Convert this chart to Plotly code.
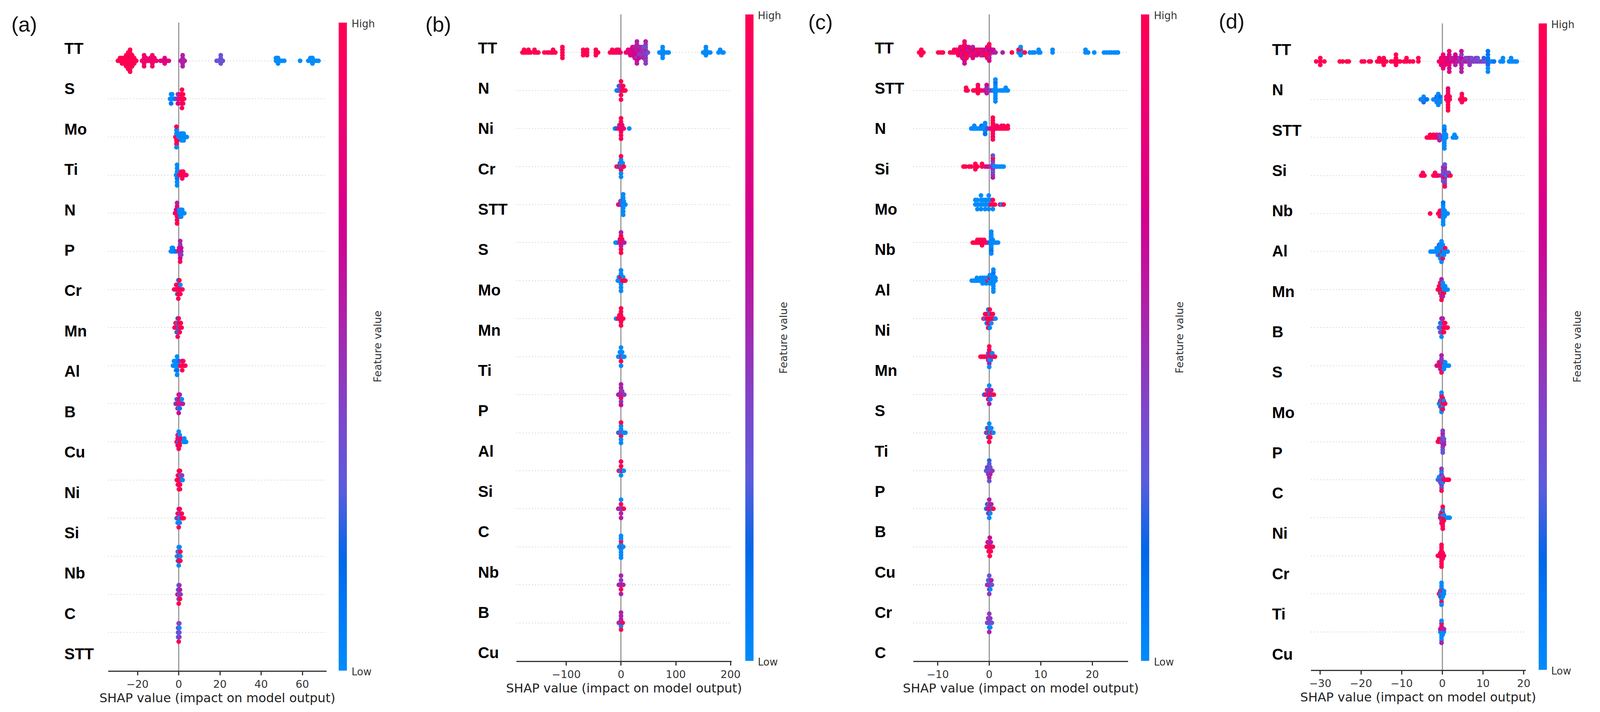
import numpy as np
import plotly.graph_objects as go

# Each dot: (SHAP value, feature value on a 0-9 scale, 0 = low / blue, 9 = high / red)

# ---------------- panel (a) ----------------
a_features = ["TT", "S", "Mo", "Ti", "N", "P", "Cr", "Mn", "Al", "B", "Cu", "Ni", "Si", "Nb", "C", "STT"]
a_ticks = [-20, 0, 20, 40, 60]

a_TT = [(-29.5, 9), (-28.5, 9), (-28.5, 9), (-27.5, 9), (-27.5, 9), (-27.5, 9),
        (-26.5, 9), (-26.5, 9), (-26.5, 9), (-25.5, 9), (-25.5, 9), (-25.5, 9), (-25.5, 9), (-25.5, 9),
        (-24.5, 9), (-24.5, 9), (-24.5, 9), (-24.5, 9), (-24.5, 9), (-24.5, 9), (-24.5, 9),
        (-23.6, 9), (-23.6, 9), (-23.6, 9), (-23.6, 9), (-23.6, 9), (-23.6, 9), (-23.6, 9), (-23.6, 9), (-23.6, 9),
        (-22.6, 9), (-22.6, 9), (-22.6, 9), (-22.6, 9), (-22.6, 9), (-21.6, 9), (-21.6, 9), (-21.6, 9), (-20.6, 9),
        (-17.8, 8), (-16.8, 8), (-16.8, 8), (-16.8, 8), (-16.8, 8), (-16.8, 8), (-15.8, 8), (-15.8, 8),
        (-14.8, 8), (-13.8, 8), (-13.8, 8), (-12.8, 8), (-12.8, 8), (-12.8, 8), (-12.8, 8), (-12.8, 8),
        (-11.8, 8), (-11.8, 8), (-10.8, 8),
        (-8.8, 7), (-7.8, 7), (-6.8, 7), (-6.8, 7), (-6.8, 7), (-5.8, 7), (-4.8, 7),
        (0.9, 5), (1.9, 5), (1.9, 5), (1.9, 5), (1.9, 5), (1.9, 5), (2.9, 5),
        (18.4, 3), (19.4, 3), (20.4, 3), (20.4, 3), (20.4, 3), (20.4, 3), (21.4, 3),
        (47.2, 0), (47.2, 0), (48.2, 0), (48.2, 0), (48.2, 0), (49.2, 0), (50.2, 0), (51.2, 0),
        (58.9, 0),
        (62.9, 0), (63.9, 0), (63.9, 0), (64.9, 0), (64.9, 0), (64.9, 0), (65.9, 0), (66.9, 0), (67.8, 0)]
a_S = [(-4.2, 0), (-3.7, 0), (-3.7, 0), (-3.7, 1), (-3.2, 0), (-3.2, 0), (-2.7, 0), (-2.2, 0), (-1.6, 1),
       (-0.9, 4), (-0.4, 5), (-0.4, 4), (-0.4, 6), (0.1, 5), (0.6, 9), (0.6, 8), (1.1, 9), (1.1, 9), (1.1, 9),
       (1.6, 9), (1.6, 8), (1.6, 9), (1.6, 9), (1.6, 9), (2.1, 9), (2.1, 9), (2.1, 8), (2.6, 9)]
a_Mo = [(-1.6, 9), (-1.1, 9), (-1.1, 0), (-1.1, 9), (-1.1, 0), (-1.1, 9), (-1.1, 8), (-1.1, 0), (-0.6, 9),
        (-0.6, 0), (-0.6, 9), (-0.1, 0), (0.4, 0), (0.9, 0), (0.9, 0), (1.4, 0), (1.4, 0), (1.4, 0), (1.9, 0),
        (1.9, 0), (2.4, 0), (2.4, 0), (2.4, 0), (2.9, 0), (3.4, 0), (3.9, 0)]
a_Ti = [(-1.3, 0), (-0.8, 0), (-0.8, 0), (-0.8, 1), (-0.8, 0), (-0.8, 0), (-0.8, 0), (-0.8, 0), (-0.3, 0),
        (-0.3, 0), (0.2, 9), (0.7, 9), (1.2, 9), (1.2, 9), (1.7, 9), (1.7, 9), (1.7, 8), (2.2, 9), (2.2, 9),
        (2.7, 9), (3.2, 9), (3.7, 8)]
a_N = [(-1.8, 8), (-1.3, 9), (-1.3, 7), (-0.8, 9), (-0.8, 6), (-0.8, 9), (-0.8, 8), (-0.8, 9), (-0.8, 5),
       (-0.8, 9), (-0.3, 9), (-0.3, 6), (-0.3, 9), (0.2, 2), (0.2, 0), (0.7, 0), (0.7, 0), (0.7, 1), (1.2, 0),
       (1.2, 0), (1.2, 0), (1.7, 0), (1.7, 0), (2.2, 0), (2.7, 0)]
a_P = [(-3.8, 0), (-3.3, 0), (-3.3, 0), (-2.8, 0), (-2.8, 0), (-2.3, 0), (-1.8, 0), (-1.3, 1), (-0.3, 5),
       (0.2, 5), (0.2, 6), (0.7, 5), (0.7, 9), (0.7, 5), (0.7, 4), (0.7, 6), (0.7, 5), (0.7, 9), (1.2, 5),
       (1.2, 6), (1.2, 4)]
a_Cr = [(-2.2, 9), (-1.7, 9), (-1.2, 8), (-1.2, 9), (-0.7, 9), (-0.7, 9), (-0.7, 1), (-0.2, 9), (-0.2, 8),
        (-0.2, 9), (-0.2, 0), (-0.2, 9), (0.3, 9), (0.3, 9), (0.3, 9), (0.3, 9), (0.8, 9), (0.8, 0), (0.8, 9),
        (1.3, 9), (1.8, 8)]
a_Mn = [(-2.0, 9), (-1.5, 9), (-1.5, 9), (-1.0, 8), (-1.0, 9), (-1.0, 0), (-0.5, 9), (-0.5, 0), (-0.5, 9),
        (-0.5, 1), (-0.5, 9), (0.0, 0), (0.0, 9), (0.0, 0), (0.0, 9), (0.5, 9), (0.5, 9), (0.5, 8), (1.0, 9),
        (1.0, 9), (1.4, 9)]
a_Al = [(-2.8, 0), (-2.3, 0), (-2.3, 0), (-1.8, 0), (-1.8, 0), (-1.3, 0), (-1.3, 0), (-1.3, 0), (-0.8, 0),
        (-0.8, 0), (-0.8, 1), (-0.8, 0), (-0.8, 0), (-0.3, 0), (-0.3, 0), (0.2, 0), (0.2, 2), (0.7, 9),
        (1.2, 9), (1.7, 9), (1.7, 9), (1.7, 9), (2.2, 9), (2.2, 8), (2.7, 9), (3.2, 9)]
a_B = [(-1.5, 3), (-1.0, 5), (-1.0, 0), (-0.5, 6), (-0.5, 4), (-0.5, 9), (0.0, 9), (0.0, 5), (0.0, 0),
       (0.0, 9), (0.0, 6), (0.5, 4), (0.5, 9), (0.5, 1), (0.5, 5), (1.0, 9), (1.0, 9), (1.5, 5), (1.5, 0),
       (2.0, 5)]
a_Cu = [(-1.0, 9), (-0.5, 8), (-0.5, 9), (-0.5, 5), (-0.5, 9), (0.0, 0), (0.0, 9), (0.0, 9), (0.0, 6),
        (0.0, 9), (0.0, 0), (0.5, 9), (0.5, 5), (0.5, 9), (0.5, 0), (1.0, 9), (1.0, 8), (2.2, 0), (2.7, 0),
        (2.7, 0), (3.2, 0), (3.6, 0)]
a_Ni = [(-0.9, 9), (-0.4, 9), (-0.4, 8), (-0.4, 9), (0.1, 9), (0.1, 9), (0.1, 9), (0.1, 9), (0.1, 8),
        (0.6, 9), (0.6, 9), (0.6, 9), (0.6, 9), (0.6, 9), (1.1, 9), (1.1, 0), (1.6, 0), (1.6, 4), (1.9, 0)]
a_Si = [(-1.0, 0), (-0.5, 5), (-0.5, 9), (-0.5, 0), (0.0, 4), (0.0, 9), (0.0, 0), (0.0, 5), (0.0, 9),
        (0.5, 0), (0.5, 4), (0.5, 0), (0.5, 9), (1.0, 0), (1.0, 5), (1.5, 9), (1.5, 9), (2.0, 9), (2.4, 9)]
a_Nb = [(-0.8, 0), (-0.4, 0), (-0.4, 9), (-0.4, 0), (0.0, 0), (0.0, 0), (0.0, 9), (0.0, 0), (0.0, 0),
        (0.4, 9), (0.4, 0), (0.4, 9), (0.4, 0), (0.8, 0), (0.8, 9), (0.8, 9)]
a_C = [(-0.6, 5), (-0.3, 9), (-0.3, 4), (0.0, 4), (0.0, 0), (0.0, 5), (0.0, 3), (0.0, 9), (0.3, 4), (0.3, 5),
       (0.3, 0), (0.3, 4), (0.6, 3), (0.6, 5), (0.6, 9), (0.9, 4)]
a_STT = [(-0.3, 3), (-0.3, 3), (-0.3, 0), (0.0, 3), (0.0, 4), (0.0, 3), (0.0, 9), (0.0, 9), (0.3, 3),
         (0.3, 0), (0.3, 4), (0.3, 3)]

# ---------------- panel (b) ----------------
b_features = ["TT", "N", "Ni", "Cr", "STT", "S", "Mo", "Mn", "Ti", "P", "Al", "Si", "C", "Nb", "B", "Cu"]
b_ticks = [-100, 0, 100, 200]

b_TT = [(-180, 9), (-177, 9), (-177, 9), (-173, 9), (-169, 9), (-169, 9), (-165, 9), (-158, 9), (-158, 9),
        (-154, 9), (-151, 9), (-140, 9), (-135, 9), (-131, 9), (-127, 9), (-124, 9), (-124, 9), (-120, 9),
        (-107, 9), (-107, 9), (-107, 9), (-107, 9), (-107, 9),
        (-69, 9), (-69, 9), (-69, 9), (-66, 9), (-62, 9), (-62, 9), (-62, 9),
        (-46, 9), (-46, 9), (-46, 9), (-42, 9),
        (-20, 9), (-16, 9), (-16, 9), (-12, 9), (-8, 8), (-8, 9), (-4, 9), (-4, 8), (-1, 8),
        (9, 8), (13, 8), (13, 7), (17, 8), (17, 7), (17, 6), (21, 7), (21, 7), (21, 6), (21, 7),
        (25, 7), (25, 6), (25, 6), (25, 5), (25, 7),
        (29, 6), (29, 5), (29, 6), (29, 5), (29, 4), (29, 5), (29, 6), (29, 5), (29, 5),
        (33, 5), (33, 6), (33, 4), (33, 5), (33, 6), (37, 4), (37, 5), (37, 4), (37, 5),
        (41, 5), (41, 4), (41, 4), (41, 3), (41, 5),
        (45, 4), (45, 5), (45, 4), (45, 3), (45, 4), (45, 4), (45, 4), (45, 5), (45, 4), (49, 3),
        (70, 0), (73, 0), (76, 0), (76, 0), (76, 0), (76, 0), (76, 0), (80, 0), (84, 0), (87, 0),
        (150, 0), (153, 0), (155, 0), (155, 0), (155, 0), (159, 0), (163, 0),
        (178, 0), (181, 0), (185, 0), (187, 0)]
b_N = [(-8, 0), (-7, 0), (-6, 2), (-5, 0), (-4, 0), (-4, 0), (-3, 9), (-3, 0), (-2, 0), (-2, 5), (-1, 0),
       (0, 9), (0, 0), (0, 9), (0, 9), (0, 9), (1, 0), (1, 9), (2, 9), (2, 5), (3, 9), (4, 9), (4, 9),
       (5, 9), (6, 9), (7, 9), (8, 9)]
b_Ni = [(-11, 0), (-9, 0), (-8, 2), (-4, 9), (-3, 9), (-3, 8), (-2, 9), (-2, 0), (-1, 9), (-1, 9),
        (0, 9), (0, 9), (0, 8), (0, 9), (0, 9), (0, 9), (0, 9), (1, 9), (1, 9), (2, 9), (2, 7), (3, 9),
        (4, 9), (5, 8), (15, 0)]
b_Cr = [(-8, 9), (-6, 9), (-5, 0), (-4, 9), (-3, 9), (-2, 9), (-2, 0), (-1, 9), (-1, 9), (0, 0), (0, 0),
        (0, 9), (0, 0), (0, 0), (0, 9), (0, 0), (1, 0), (1, 0), (2, 9), (2, 0), (3, 9), (3, 0), (4, 0),
        (5, 9)]
b_STT = [(-5, 9), (-4, 5), (-3, 9), (-2, 5), (-1, 9), (-1, 4), (0, 5), (0, 9), (1, 4), (1, 0), (2, 5),
         (3, 0), (3, 0), (4, 0), (4, 5), (4, 0), (4, 0), (4, 0), (4, 0), (4, 0), (5, 0), (5, 0), (6, 0),
         (7, 0), (8, 0)]
b_S = [(-10, 0), (-8, 0), (-6, 0), (-4, 5), (-3, 0), (-2, 9), (-2, 5), (-1, 5), (0, 9), (0, 9), (0, 5),
       (0, 9), (0, 9), (0, 5), (0, 9), (1, 5), (2, 9), (2, 9), (3, 5), (4, 9), (6, 5)]
b_Mo = [(-6, 0), (-5, 0), (-4, 0), (-4, 0), (-3, 0), (-2, 0), (-2, 0), (-1, 0), (-1, 9), (0, 0), (0, 9),
        (0, 0), (0, 0), (0, 0), (0, 0), (0, 0), (1, 0), (2, 9), (3, 9), (4, 9), (4, 0), (5, 9), (6, 9),
        (8, 9)]
b_Mn = [(-9, 0), (-7, 0), (-5, 9), (-4, 9), (-3, 9), (-3, 9), (-2, 9), (-1, 9), (-1, 8), (0, 9), (0, 9),
        (0, 9), (0, 9), (0, 9), (0, 9), (1, 9), (2, 9), (3, 9), (4, 9)]
b_Ti = [(-5, 0), (-4, 0), (-3, 0), (-2, 0), (-2, 0), (-1, 0), (0, 0), (0, 0), (0, 9), (0, 0), (0, 0),
        (1, 9), (2, 9), (2, 0), (3, 0), (4, 0), (5, 0), (6, 0)]
b_P = [(-5, 5), (-4, 4), (-3, 5), (-2, 6), (-1, 5), (0, 4), (0, 5), (0, 9), (0, 5), (0, 4), (0, 5),
       (0, 6), (1, 5), (2, 5), (2, 4), (3, 5), (4, 9), (5, 5), (6, 4)]
b_Al = [(-5, 0), (-3, 9), (-2, 0), (-1, 9), (0, 0), (0, 0), (0, 9), (0, 0), (0, 0), (0, 9), (0, 0),
        (1, 0), (2, 0), (3, 9), (4, 0), (6, 0), (8, 0)]
b_Si = [(-4, 9), (-3, 9), (-2, 0), (-1, 9), (0, 0), (0, 9), (0, 0), (0, 9), (1, 0), (2, 9), (3, 9), (5, 0)]
b_C = [(-5, 5), (-3, 9), (-2, 0), (-1, 5), (0, 4), (0, 9), (0, 5), (0, 0), (0, 5), (1, 9), (2, 5), (3, 0),
       (4, 5), (5, 9)]
b_Nb = [(-3, 0), (-2, 0), (-1, 0), (0, 0), (0, 0), (0, 0), (0, 9), (0, 0), (0, 0), (0, 0), (0, 0), (0, 0),
        (1, 0), (2, 0), (3, 9), (4, 0)]
b_B = [(-4, 5), (-3, 4), (-2, 5), (-1, 6), (0, 5), (0, 4), (0, 9), (0, 5), (0, 5), (1, 4), (2, 5), (3, 6),
       (4, 5)]
b_Cu = [(-4, 9), (-3, 5), (-2, 0), (-1, 5), (0, 9), (0, 5), (0, 0), (0, 5), (0, 9), (0, 5), (1, 0), (2, 5),
        (3, 9)]

# ---------------- panel (c) ----------------
c_features = ["TT", "STT", "N", "Si", "Mo", "Nb", "Al", "Ni", "Mn", "S", "Ti", "P", "B", "Cu", "Cr", "C"]
c_ticks = [-10, 0, 10, 20]

c_TT = [(-13.6, 9), (-13.2, 9), (-13.2, 9), (-13.2, 9), (-12.8, 9),
        (-9.9, 9), (-9.4, 9), (-9.0, 9),
        (-7.6, 9), (-7.2, 9), (-6.8, 9), (-6.8, 8), (-6.4, 9), (-6.4, 8), (-6.0, 9), (-6.0, 8), (-6.0, 9),
        (-5.6, 8), (-5.6, 9), (-5.6, 7), (-5.6, 8), (-5.2, 9), (-5.2, 6), (-5.2, 8), (-5.2, 9), (-5.2, 7),
        (-4.8, 8), (-4.8, 9), (-4.8, 6), (-4.8, 8), (-4.8, 5), (-4.8, 9), (-4.8, 7), (-4.8, 8), (-4.8, 6),
        (-4.4, 9), (-4.4, 7), (-4.4, 8), (-4.4, 6), (-4.4, 9), (-4.0, 8), (-4.0, 5), (-4.0, 9), (-4.0, 7),
        (-3.6, 6), (-3.6, 9), (-3.6, 5), (-3.2, 8), (-3.2, 6), (-3.2, 9), (-3.2, 5), (-3.2, 7),
        (-2.8, 9), (-2.8, 6), (-2.8, 8), (-2.4, 5), (-2.4, 9), (-2.4, 7), (-2.0, 6), (-2.0, 9),
        (-1.6, 8), (-1.6, 5), (-1.6, 9), (-1.2, 7), (-1.2, 9), (-1.2, 5), (-0.8, 9), (-0.8, 6), (-0.8, 8),
        (-0.4, 9), (-0.4, 5), (-0.4, 9), (-0.4, 7), (-0.4, 8),
        (0.0, 9), (0.0, 6), (0.0, 9), (0.0, 8), (0.0, 5), (0.0, 9), (0.0, 7),
        (0.4, 5), (0.4, 6), (0.8, 5), (0.8, 6), (1.2, 5),
        (2.6, 5), (4.4, 9),
        (5.7, 0), (5.7, 9), (6.1, 0), (6.1, 9), (6.1, 0), (6.1, 0), (6.5, 0), (6.9, 9),
        (7.9, 0), (8.4, 0), (8.8, 0), (9.6, 0), (9.6, 0), (9.9, 0),
        (12.3, 0), (12.3, 0),
        (18.7, 0), (18.7, 0), (19.2, 0), (20.4, 0),
        (22.3, 0), (22.8, 0), (23.3, 0), (23.7, 0), (24.2, 0), (24.6, 0), (25.0, 0)]
c_STT = [(-4.5, 9), (-4.5, 9), (-4.2, 9), (-3.1, 9), (-2.8, 9), (-2.5, 9), (-2.2, 9), (-2.2, 9), (-2.2, 9),
         (-2.2, 8), (-1.8, 9), (-1.5, 9), (-1.0, 7), (-0.5, 5), (-0.5, 4), (-0.5, 5), (-0.5, 6), (-0.2, 5),
         (0.2, 4), (0.6, 2), (0.9, 0), (1.2, 0), (1.2, 0), (1.2, 0), (1.2, 0), (1.2, 0), (1.2, 1), (1.2, 0),
         (1.2, 0), (1.2, 0), (1.5, 0), (2.1, 0), (2.5, 0), (2.8, 0), (3.2, 0), (3.2, 0), (3.6, 0)]
c_N = [(-3.5, 0), (-3.2, 0), (-2.9, 0), (-2.9, 0), (-2.5, 0), (-2.2, 0), (-1.8, 0), (-1.5, 0), (-1.5, 1),
       (-1.2, 0), (-0.8, 0), (-0.8, 0), (-0.8, 0), (-0.8, 0), (-0.8, 1), (-0.4, 2), (0.0, 5), (0.4, 7),
       (0.7, 9), (0.7, 9), (0.7, 8), (0.7, 9), (0.7, 9), (0.7, 9), (0.7, 8), (0.7, 9), (0.7, 9), (1.1, 8),
       (1.1, 9), (1.5, 9), (1.5, 8), (2.0, 9), (2.4, 9), (2.4, 8), (2.8, 9), (2.8, 9), (3.2, 9), (3.6, 9),
       (3.6, 9)]
c_Si = [(-5.0, 9), (-4.6, 9), (-3.9, 9), (-3.5, 9), (-2.7, 9), (-2.7, 9), (-2.7, 9), (-2.3, 9), (-1.4, 9),
        (-1.4, 9), (-0.8, 8), (-0.4, 6), (0.0, 5), (0.4, 4), (0.7, 4), (0.7, 3), (0.7, 5), (0.7, 4),
        (0.7, 3), (0.7, 9), (0.7, 4), (0.7, 3), (0.7, 5), (1.0, 0), (1.3, 0), (1.6, 0), (2.0, 0), (2.4, 0),
        (2.8, 0)]
c_Mo = [(-2.7, 0), (-2.7, 0), (-2.3, 0), (-2.3, 0), (-2.3, 0), (-2.0, 0), (-1.6, 0), (-1.6, 0), (-1.6, 0),
        (-1.6, 0), (-1.2, 0), (-1.2, 0), (-0.8, 0), (-0.8, 0), (-0.8, 0), (-0.5, 0), (-0.5, 0), (-0.1, 0),
        (-0.1, 0), (-0.1, 0), (-0.1, 0), (0.3, 9), (0.3, 0), (0.7, 9), (0.7, 9), (0.7, 0), (1.1, 9),
        (2.1, 9), (2.4, 0), (2.8, 9)]
c_Nb = [(-3.2, 9), (-2.9, 9), (-2.6, 9), (-2.3, 9), (-2.3, 9), (-2.0, 9), (-2.0, 9), (-1.7, 9), (-1.7, 9),
        (-1.4, 9), (-1.4, 9), (-1.4, 9), (-1.0, 9), (-1.0, 9), (-0.7, 9), (-0.4, 8), (0.0, 2), (0.4, 0),
        (0.4, 0), (0.4, 0), (0.4, 0), (0.4, 0), (0.4, 0), (0.4, 1), (0.4, 0), (0.4, 0), (0.7, 0), (0.7, 0),
        (1.0, 0), (1.3, 0), (1.7, 0)]
c_Al = [(-3.4, 0), (-3.0, 0), (-2.7, 0), (-2.4, 0), (-2.4, 0), (-2.0, 0), (-1.7, 0), (-1.7, 0), (-1.3, 0),
        (-1.3, 0), (-1.3, 0), (-1.0, 0), (-1.0, 0), (-0.6, 0), (-0.6, 0), (-0.6, 0), (-0.3, 9), (-0.3, 0),
        (0.1, 0), (0.1, 9), (0.1, 0), (0.1, 0), (0.5, 0), (0.5, 0), (0.5, 0), (0.8, 0), (0.8, 0), (0.8, 0),
        (0.8, 0), (0.8, 0), (0.8, 1), (0.8, 0), (0.8, 0), (0.8, 0), (1.2, 0), (1.2, 0)]
c_Ni = [(-1.1, 9), (-0.8, 0), (-0.8, 9), (-0.5, 9), (-0.5, 9), (-0.5, 0), (-0.2, 9), (-0.2, 9), (-0.2, 9),
        (-0.2, 0), (-0.2, 9), (0.1, 9), (0.1, 0), (0.1, 9), (0.1, 9), (0.1, 0), (0.4, 9), (0.4, 9), (0.4, 0),
        (0.7, 9), (0.7, 9), (1.0, 9), (1.2, 0)]
c_Mn = [(-1.7, 9), (-1.5, 9), (-1.3, 9), (-1.1, 9), (-0.9, 9), (-0.6, 9), (-0.4, 9), (-0.2, 9), (-0.2, 0),
        (-0.2, 9), (0.0, 5), (0.0, 9), (0.0, 0), (0.0, 9), (0.0, 5), (0.0, 9), (0.0, 0), (0.3, 9), (0.3, 5),
        (0.3, 0), (0.6, 9), (0.6, 0), (0.9, 5), (1.1, 9)]
c_S = [(-1.0, 0), (-0.8, 5), (-0.6, 9), (-0.4, 5), (-0.4, 9), (-0.2, 5), (-0.2, 0), (-0.2, 9), (0.0, 5),
       (0.0, 9), (0.0, 5), (0.0, 0), (0.0, 5), (0.2, 9), (0.2, 5), (0.2, 0), (0.4, 9), (0.4, 5), (0.6, 5),
       (0.9, 9)]
c_Ti = [(-0.6, 0), (-0.4, 9), (-0.4, 0), (-0.2, 0), (-0.2, 9), (-0.2, 0), (0.0, 9), (0.0, 0), (0.0, 9),
        (0.0, 0), (0.0, 9), (0.2, 0), (0.2, 0), (0.2, 9), (0.4, 0), (0.4, 0), (0.6, 9), (0.8, 0)]
c_P = [(-0.6, 3), (-0.4, 4), (-0.4, 2), (-0.2, 3), (-0.2, 5), (-0.2, 2), (0.0, 3), (0.0, 2), (0.0, 4),
       (0.0, 3), (0.0, 5), (0.0, 2), (0.0, 3), (0.2, 4), (0.2, 3), (0.2, 5), (0.4, 3), (0.6, 4)]
c_B = [(-0.6, 0), (-0.4, 5), (-0.4, 0), (-0.2, 5), (-0.2, 9), (-0.2, 0), (0.0, 5), (0.0, 0), (0.0, 9),
       (0.0, 5), (0.0, 0), (0.2, 9), (0.2, 5), (0.2, 0), (0.4, 9), (0.4, 5), (0.6, 0), (0.8, 9)]
c_Cu = [(-0.5, 9), (-0.3, 5), (-0.3, 9), (-0.1, 9), (-0.1, 5), (-0.1, 9), (0.1, 9), (0.1, 5), (0.1, 9),
        (0.1, 6), (0.1, 9), (0.3, 9), (0.3, 5), (0.3, 9), (0.5, 6), (0.7, 9)]
c_Cr = [(-0.4, 4), (-0.2, 5), (-0.2, 3), (0.0, 4), (0.0, 0), (0.0, 5), (0.0, 3), (0.0, 4), (0.2, 5),
        (0.2, 3), (0.2, 0), (0.4, 4), (0.4, 5), (0.5, 3)]
c_C = [(-0.4, 4), (-0.2, 3), (-0.2, 5), (0.0, 4), (0.0, 3), (0.0, 0), (0.0, 4), (0.0, 5), (0.2, 3),
       (0.2, 4), (0.2, 0), (0.4, 4), (0.5, 3)]

# ---------------- panel (d) ----------------
d_features = ["TT", "N", "STT", "Si", "Nb", "Al", "Mn", "B", "S", "Mo", "P", "C", "Ni", "Cr", "Ti", "Cu"]
d_ticks = [-30, -20, -10, 0, 10, 20]

d_TT = [(-31.0, 9), (-30.0, 9), (-30.0, 9), (-30.0, 9), (-29.0, 9),
        (-25.2, 9), (-24.5, 9), (-23.5, 9), (-23.0, 9),
        (-19.8, 9), (-19.2, 9), (-18.0, 9), (-17.6, 9),
        (-16.0, 9), (-15.5, 9), (-15.5, 9), (-15.0, 9), (-14.4, 9), (-14.4, 9), (-14.4, 9), (-13.8, 9),
        (-12.6, 9), (-12.0, 9), (-11.4, 9), (-11.4, 9), (-11.4, 9), (-11.4, 9), (-10.8, 9), (-10.4, 9),
        (-9.4, 9), (-8.8, 9), (-8.8, 9), (-8.0, 9), (-7.2, 9),
        (-5.9, 9), (-5.9, 9),
        (-0.8, 8), (-0.3, 9), (-0.3, 7), (-0.3, 8), (0.2, 8), (0.2, 9), (0.2, 6), (0.2, 8), (0.2, 7),
        (0.7, 9), (0.7, 7), (0.7, 8), (1.2, 6), (1.2, 8),
        (1.7, 7), (1.7, 6), (1.7, 8), (1.7, 7), (1.7, 6), (1.7, 8), (1.7, 7),
        (2.2, 6), (2.2, 5), (2.7, 7), (2.7, 5), (3.2, 6), (3.2, 7), (3.2, 5), (3.2, 6), (3.7, 5), (3.7, 6),
        (4.2, 5), (4.2, 4), (4.7, 5), (4.7, 6), (4.7, 5), (4.7, 4), (4.7, 5), (4.7, 6), (4.7, 5),
        (5.2, 4), (5.7, 5), (5.7, 4), (6.2, 5), (6.2, 3), (6.7, 4), (6.7, 5), (6.7, 4), (7.2, 4), (7.2, 3),
        (7.7, 4), (8.2, 3), (8.2, 4), (8.7, 4), (8.7, 3), (9.2, 3), (9.7, 4), (10.2, 3), (10.2, 2), (10.7, 3),
        (11.2, 2), (11.2, 1), (11.2, 2), (11.2, 1), (11.2, 0), (11.2, 1), (11.2, 0), (11.7, 1), (12.2, 0),
        (12.7, 1),
        (14.3, 0), (14.9, 0), (14.9, 0),
        (16.4, 0), (16.9, 0), (16.9, 0), (17.4, 0), (17.9, 0), (18.3, 0)]
d_N = [(-5.3, 1), (-5.0, 0), (-4.6, 0), (-4.6, 0), (-4.6, 2), (-4.2, 0), (-3.8, 1), (-2.2, 0), (-1.8, 0),
       (-1.4, 0), (-1.4, 2), (-1.4, 0), (-1.0, 0), (-1.0, 0), (-1.0, 3), (-1.0, 0), (-1.0, 0), (-0.6, 0),
       (-0.6, 1), (-0.6, 0), (1.0, 9), (1.0, 8), (1.4, 9), (1.4, 9), (1.4, 9), (1.4, 8), (1.4, 9), (1.4, 9),
       (1.4, 9), (1.4, 7), (1.4, 9), (1.8, 9), (1.8, 8), (4.4, 9), (4.8, 9), (4.8, 9), (4.8, 8), (4.8, 9),
       (5.2, 9), (5.6, 9)]
d_STT = [(-3.8, 9), (-3.4, 9), (-3.0, 9), (-3.0, 9), (-2.6, 9), (-2.2, 9), (-2.2, 9), (-1.8, 9), (-1.4, 9),
         (-1.4, 8), (-1.0, 6), (-0.7, 5), (-0.7, 4), (-0.7, 5), (-0.3, 3), (0.1, 2), (0.5, 0), (0.5, 0),
         (0.5, 0), (0.5, 0), (0.5, 0), (0.5, 1), (0.5, 0), (0.5, 0), (0.5, 0), (0.9, 0), (0.9, 0), (2.6, 0),
         (3.0, 0), (3.0, 0), (3.4, 0)]
d_Si = [(-5.2, 9), (-4.8, 9), (-4.8, 9), (-4.4, 9), (-2.2, 9), (-1.8, 9), (-1.8, 9), (-1.4, 9), (-1.0, 8),
        (-0.2, 5), (0.2, 4), (0.2, 3), (0.2, 5), (0.2, 4), (0.2, 3), (0.2, 4), (0.6, 5), (0.6, 3), (0.6, 9),
        (0.6, 4), (0.6, 3), (0.6, 5), (0.6, 4), (0.6, 3), (0.6, 9), (1.0, 0), (1.0, 4), (1.6, 5), (1.6, 3),
        (2.0, 9)]
d_Nb = [(-3.0, 9), (-1.0, 9), (-0.6, 9), (-0.6, 9), (-0.6, 9), (-0.2, 8), (-0.2, 9), (0.2, 0), (0.2, 0),
        (0.2, 0), (0.2, 0), (0.2, 0), (0.2, 0), (0.2, 0), (0.2, 1), (0.2, 0), (0.6, 0), (0.6, 0), (0.6, 0),
        (1.0, 0), (1.3, 0)]
d_Al = [(-2.9, 0), (-2.5, 0), (-2.1, 0), (-1.7, 0), (-1.4, 0), (-1.4, 0), (-1.1, 0), (-1.1, 0), (-1.1, 0),
        (-0.8, 0), (-0.8, 0), (-0.8, 0), (-0.8, 2), (-0.5, 0), (-0.5, 0), (-0.5, 9), (-0.5, 0), (-0.5, 0),
        (-0.2, 0), (-0.2, 0), (-0.2, 0), (-0.2, 0), (-0.2, 0), (-0.2, 0), (-0.2, 0), (0.1, 9), (0.1, 0),
        (0.1, 0), (0.1, 0), (0.1, 9), (0.4, 0), (0.4, 0), (0.4, 0), (0.7, 0), (0.7, 9), (1.0, 0), (1.3, 0)]
d_Mn = [(-1.1, 9), (-0.8, 9), (-0.8, 9), (-0.5, 9), (-0.5, 9), (-0.5, 9), (-0.5, 8), (-0.2, 9), (-0.2, 9),
        (-0.2, 0), (-0.2, 9), (-0.2, 9), (-0.2, 5), (-0.2, 9), (0.1, 9), (0.1, 0), (0.1, 9), (0.1, 0),
        (0.1, 5), (0.4, 0), (0.4, 0), (0.4, 9), (0.7, 0), (0.7, 0), (1.0, 0), (1.3, 0)]
d_B = [(-0.8, 0), (-0.5, 4), (-0.5, 0), (-0.5, 5), (-0.2, 0), (-0.2, 4), (-0.2, 0), (-0.2, 5), (-0.2, 0),
       (0.1, 4), (0.1, 0), (0.1, 9), (0.1, 5), (0.4, 9), (0.4, 9), (0.4, 9), (0.7, 9), (0.7, 9), (1.0, 9),
       (1.3, 9)]
d_S = [(-1.4, 5), (-1.1, 9), (-0.8, 5), (-0.8, 9), (-0.5, 9), (-0.5, 5), (-0.5, 4), (-0.2, 9), (-0.2, 5),
       (-0.2, 9), (-0.2, 4), (-0.2, 9), (-0.2, 5), (0.1, 9), (0.1, 4), (0.1, 5), (0.4, 0), (0.4, 5), (0.4, 0),
       (0.7, 0), (0.7, 0), (1.0, 0), (1.3, 0), (1.6, 0)]
d_Mo = [(-0.8, 0), (-0.5, 0), (-0.5, 9), (-0.5, 0), (-0.2, 0), (-0.2, 0), (-0.2, 9), (-0.2, 0), (-0.2, 0),
        (-0.2, 9), (-0.2, 0), (-0.2, 0), (0.1, 9), (0.1, 9), (0.1, 0), (0.1, 9), (0.1, 9), (0.4, 9), (0.4, 0),
        (0.7, 9)]
d_P = [(-1.1, 9), (-0.8, 9), (-0.8, 9), (-0.5, 9), (-0.2, 4), (0.1, 3), (0.1, 4), (0.1, 5), (0.1, 3),
       (0.1, 4), (0.1, 5), (0.1, 3), (0.1, 4), (0.1, 3), (0.4, 4), (0.4, 3), (0.4, 5)]
d_C = [(-1.1, 0), (-0.8, 3), (-0.8, 0), (-0.5, 4), (-0.5, 0), (-0.5, 3), (-0.2, 4), (-0.2, 0), (-0.2, 3),
       (-0.2, 5), (-0.2, 4), (-0.2, 0), (-0.2, 3), (-0.2, 4), (-0.2, 9), (0.1, 4), (0.1, 3), (0.1, 0),
       (0.4, 9), (0.7, 9), (1.0, 9), (1.3, 9), (1.6, 9)]
d_Ni = [(-0.5, 9), (-0.5, 0), (-0.2, 9), (-0.2, 9), (-0.2, 0), (-0.2, 9), (-0.2, 9), (0.1, 9), (0.1, 0),
        (0.1, 9), (0.1, 9), (0.1, 9), (0.1, 0), (0.1, 9), (0.1, 9), (0.1, 9), (0.4, 9), (0.4, 0), (0.4, 9),
        (1.2, 0), (1.5, 0), (1.8, 0)]
d_Cr = [(-1.1, 9), (-0.8, 9), (-0.5, 9), (-0.5, 9), (-0.2, 9), (-0.2, 9), (-0.2, 9), (-0.2, 8), (-0.2, 9),
        (-0.2, 9), (-0.2, 9), (-0.2, 9), (-0.2, 9), (0.1, 9), (0.1, 9), (0.1, 8), (0.4, 9)]
d_Ti = [(-0.8, 9), (-0.5, 0), (-0.5, 9), (-0.5, 0), (-0.2, 0), (-0.2, 0), (-0.2, 9), (-0.2, 0), (-0.2, 0),
        (-0.2, 0), (-0.2, 9), (-0.2, 0), (-0.2, 0), (0.1, 0), (0.1, 9), (0.1, 0), (0.4, 0), (0.4, 0)]
d_Cu = [(-0.5, 0), (-0.5, 5), (-0.2, 0), (-0.2, 9), (-0.2, 0), (-0.2, 5), (-0.2, 0), (-0.2, 9), (-0.2, 0),
        (-0.2, 0), (-0.2, 5), (0.1, 0), (0.1, 9), (0.1, 0), (0.4, 0), (0.4, 5)]

a_rows = [a_TT, a_S, a_Mo, a_Ti, a_N, a_P, a_Cr, a_Mn, a_Al, a_B, a_Cu, a_Ni, a_Si, a_Nb, a_C, a_STT]
b_rows = [b_TT, b_N, b_Ni, b_Cr, b_STT, b_S, b_Mo, b_Mn, b_Ti, b_P, b_Al, b_Si, b_C, b_Nb, b_B, b_Cu]
c_rows = [c_TT, c_STT, c_N, c_Si, c_Mo, c_Nb, c_Al, c_Ni, c_Mn, c_S, c_Ti, c_P, c_B, c_Cu, c_Cr, c_C]
d_rows = [d_TT, d_N, d_STT, d_Si, d_Nb, d_Al, d_Mn, d_B, d_S, d_Mo, d_P, d_C, d_Ni, d_Cr, d_Ti, d_Cu]

# ---------------- layout ----------------
# positions below are measured on the 4180x1824 reference and turned into paper fractions;
# the browser only shows 4096 px of width, so the figure itself is drawn 4096 px wide.
REF_W, H = 4180, 1824
FIG_W = 4096
panels = [
    dict(letter="(a)", rows=a_rows, feats=a_features, ticks=a_ticks, xdom=(280, 855), xrange=(-34.3, 71.8),
         ydom=(58, 1718), lab_range=(16.44, -1.20), lab_x=161, cb_x=887, letter_xy=(60, 62)),
    dict(letter="(b)", rows=b_rows, feats=b_features, ticks=b_ticks, xdom=(1354, 1920), xrange=(-191, 202),
         ydom=(37, 1693), lab_range=(16.47, -1.19), lab_x=1249, cb_x=1956, letter_xy=(1148, 62)),
    dict(letter="(c)", rows=c_rows, feats=c_features, ticks=c_ticks, xdom=(2398, 2963), xrange=(-14.73, 27.0),
         ydom=(37, 1693), lab_range=(16.47, -1.19), lab_x=2292, cb_x=2997, letter_xy=(2154, 56)),
    dict(letter="(d)", rows=d_rows, feats=d_features, ticks=d_ticks, xdom=(3443, 4008), xrange=(-32.34, 20.47),
         ydom=(60, 1716), lab_range=(16.43, -1.23), lab_x=3337, cb_x=4042, letter_xy=(3235, 54)),
]
CB_THICK = 21

SANS = "DejaVu Sans"
ARIAL = "Liberation Sans, Arial"
AX = "#333333"
SCALE = [[0.0, "rgb(0,139,251)"], [0.10, "rgb(0,120,245)"], [0.17, "rgb(0,104,232)"],
         [0.28, "rgb(91,92,220)"], [0.385, "rgb(123,72,204)"], [0.49, "rgb(155,47,181)"],
         [0.55, "rgb(176,32,168)"], [0.69, "rgb(212,0,143)"], [0.86, "rgb(240,0,112)"],
         [1.0, "rgb(255,0,81)"]]


def swarm(vals, row_height=0.4, nbins=100):
    # vertical jitter used by the shap beeswarm: stack points that fall in the same x bin
    vals = np.asarray(vals, dtype=float)
    span = vals.max() - vals.min()
    quant = np.round(nbins * (vals - vals.min()) / (span + 1e-8))
    order = np.argsort(quant, kind="stable")
    ys = np.zeros(len(vals))
    layer, last = 0, None
    for ind in order:
        if quant[ind] != last:
            layer = 0
        ys[ind] = np.ceil(layer / 2) * ((layer % 2) * 2 - 1)
        layer += 1
        last = quant[ind]
    ys *= 0.9 * (row_height / np.max(ys + 1))
    return ys


fig = go.Figure()
layout = {}
annotations = []


def paper_text(text, x, y, size, xanchor="left", angle=0, family=SANS, color=AX):
    annotations.append(dict(text=text, x=x, y=y, xref="paper", yref="paper", showarrow=False,
                            xanchor=xanchor, yanchor="middle", textangle=angle,
                            font=dict(family=family, size=size, color=color)))


for k, p in enumerate(panels, start=1):
    sfx = "" if k == 1 else str(k)
    lab = str(k + 4)
    xs, ys, cs = [], [], []
    for i, row in enumerate(p["rows"]):
        vals = [v for v, _ in row]
        off = swarm(vals)
        xs += vals
        ys += list(i - off)
        cs += [c / 9 for _, c in row]
    fig.add_trace(go.Scatter(
        x=xs, y=ys, mode="markers", xaxis="x" + sfx, yaxis="y" + sfx,
        marker=dict(size=12, color=cs, coloraxis="coloraxis" + sfx, line=dict(width=0)),
        showlegend=False, hoverinfo="skip"))
    # empty trace so the feature-name axis gets drawn
    fig.add_trace(go.Scatter(x=[None], y=[None], mode="markers", xaxis="x" + lab, yaxis="y" + lab,
                             showlegend=False, hoverinfo="skip"))

    x0, x1 = p["xdom"]
    top, bot = p["ydom"]
    ydom = [1 - bot / H, 1 - top / H]

    layout["xaxis" + sfx] = dict(
        domain=[x0 / REF_W, x1 / REF_W], range=list(p["xrange"]), anchor="y" + sfx,
        tickmode="array", tickvals=p["ticks"],
        ticktext=[str(v).replace("-", "\u2212") for v in p["ticks"]],
        ticks="outside", ticklen=9, tickwidth=3, tickcolor=AX,
        showline=True, linecolor=AX, linewidth=3, showgrid=False,
        zeroline=True, zerolinecolor="#999999", zerolinewidth=3,
        tickfont=dict(family=SANS, size=27, color=AX),
        title=dict(text="SHAP value (impact on model output)", standoff=10,
                   font=dict(family=SANS, size=32, color="#222222")))
    layout["yaxis" + sfx] = dict(
        domain=ydom, range=[16, -1], anchor="x" + sfx,
        tickmode="array", tickvals=list(range(16)), showticklabels=False, ticks="",
        showline=False, zeroline=False,
        showgrid=True, gridcolor="#cccccc", gridwidth=2, griddash="2px,6px")
    # feature names: their own full-height axis, left aligned, spaced a little wider than the rows
    layout["xaxis" + lab] = dict(domain=[x0 / REF_W, x1 / REF_W], visible=False, range=[0, 1])
    layout["yaxis" + lab] = dict(
        domain=[0, 1], anchor="free", position=p["lab_x"] / REF_W, side="left",
        range=list(p["lab_range"]), tickmode="array", tickvals=list(range(16)), ticktext=p["feats"],
        ticklabelposition="inside", ticks="", showline=False, showgrid=False, zeroline=False,
        tickfont=dict(family=ARIAL, size=40, color="black", weight="bold"))
    layout["coloraxis" + sfx] = dict(
        colorscale=SCALE, cmin=0, cmax=1,
        colorbar=dict(x=p["cb_x"] / REF_W, xanchor="left", y=ydom[0], yanchor="bottom",
                      len=ydom[1] - ydom[0], lenmode="fraction", thickness=CB_THICK, thicknessmode="pixels",
                      xpad=0, ypad=0, outlinewidth=0, showticklabels=False, ticks=""))
    cb_right = p["cb_x"] + CB_THICK
    paper_text("High", (cb_right + 10) / REF_W, ydom[1] - 3 / H, 26)
    paper_text("Low", (cb_right + 10) / REF_W, ydom[0] - 3 / H, 26)
    paper_text("Feature value", (cb_right + 80) / REF_W, (ydom[0] + ydom[1]) / 2, 27,
               xanchor="center", angle=-90)
    lx, ly = p["letter_xy"]
    paper_text(p["letter"], lx / REF_W, 1 - ly / H, 54, xanchor="center", family=ARIAL, color="#111111")

fig.update_layout(**layout)
fig.update_layout(
    width=FIG_W, height=H, margin=dict(l=0, r=0, t=0, b=0),
    paper_bgcolor="white", plot_bgcolor="rgba(0,0,0,0)",
    annotations=annotations)

# drop the default page margin so the figure starts at the window's corner
fig.write_html("out.html", config={"displayModeBar": False},
               post_script="document.body.style.margin='0';document.body.style.overflow='hidden';")
